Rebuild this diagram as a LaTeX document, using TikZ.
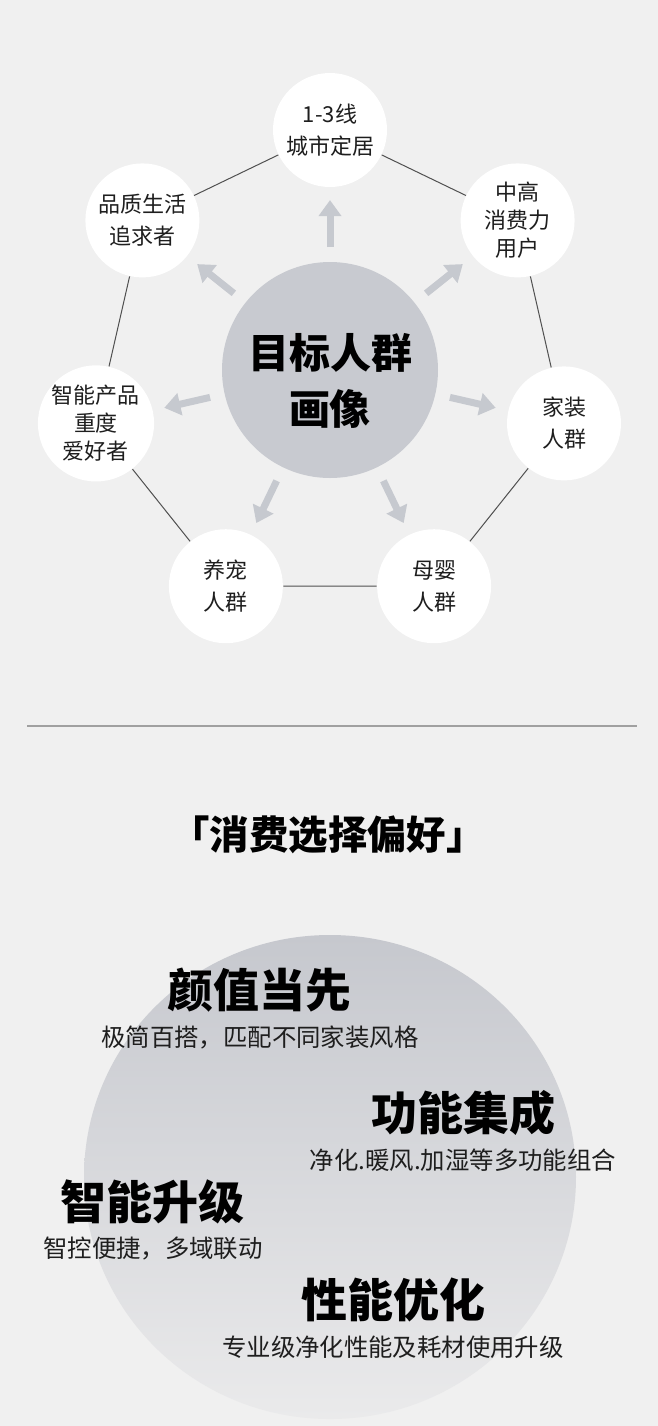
\documentclass[tikz,border=0pt]{standalone}
\usepackage{fontspec}
\setmainfont{Noto Sans CJK SC}
\newfontfamily\heavyfont{Noto Sans CJK SC Black}
\usetikzlibrary{arrows.meta, calc}
\definecolor{pageGray}{HTML}{F0F0F0}
\definecolor{hubGray}{HTML}{C8CAD0}
\definecolor{spokeGray}{HTML}{C6C9CF}
\definecolor{rimGray}{HTML}{505050}
\definecolor{inkDark}{HTML}{1E1E1E}
\definecolor{ruleGray}{HTML}{A0A0A0}
\definecolor{ballTop}{HTML}{C6C8CE}
\definecolor{ballMid}{HTML}{CCCED3}
\definecolor{ballBottom}{HTML}{EAEAEB}
\tikzset{
  persona/.style={circle, fill=white, minimum size=57pt, inner sep=0pt, align=center,
                  text=inkDark, font=\fontsize{11pt}{14pt}\selectfont},
  hub/.style={circle, fill=hubGray, minimum size=108pt, inner sep=0pt},
  hubtext/.style={align=center, text=black, font=\heavyfont\fontsize{20.5pt}{28pt}\selectfont},
  spoke/.style={-{Triangle[width=11pt,length=8pt]}, draw=spokeGray, line width=3.5pt},
  rim/.style={draw=rimGray, line width=0.5pt},
  headline/.style={text=black, font=\heavyfont\fontsize{23pt}{23pt}\selectfont},
  subline/.style={text=inkDark, font=\fontsize{12.2pt}{12.2pt}\selectfont},
}

\begin{document}
\begin{tikzpicture}[x=0.5pt, y=-0.5pt]
\useasboundingbox (0,0) rectangle (658,1426);
\fill[pageGray] (0,0) rectangle (658,1426);

\node[hub] (hub) at (330,370) {};
\node[hubtext] (hubLabel) at (330,381) {目标人群\\画像};

\node[persona] (city) at (330,130) {1-3线\\[2pt]城市定居};
\node[persona] (spend) at (517.6,220.4) {中高\\消费力\\用户};
\node[persona] (decor) at (564,423.4) {家装\\[2pt]人群};
\node[persona] (baby) at (434.1,586.2) {母婴\\[2pt]人群};
\node[persona] (pet) at (225.9,586.2) {养宠\\[2pt]人群};
\node[persona] (gadget) at (96,423.4) {智能产品\\重度\\爱好者};
\node[persona] (life) at (142.4,220.4) {品质生活\\[2pt]追求者};

\draw[rim] (city) -- (spend) -- (decor) -- (baby) -- (pet) -- (gadget) -- (life) -- (city);

\draw[spoke] ($(hub)!0.5125!(city)$) -- ($(hub)!0.708!(city)$);
\draw[spoke] ($(hub)!0.5125!(spend)$) -- ($(hub)!0.708!(spend)$);
\draw[spoke] ($(hub)!0.5125!(decor)$) -- ($(hub)!0.708!(decor)$);
\draw[spoke] ($(hub)!0.5125!(baby)$) -- ($(hub)!0.708!(baby)$);
\draw[spoke] ($(hub)!0.5125!(pet)$) -- ($(hub)!0.708!(pet)$);
\draw[spoke] ($(hub)!0.5125!(gadget)$) -- ($(hub)!0.708!(gadget)$);
\draw[spoke] ($(hub)!0.5125!(life)$) -- ($(hub)!0.708!(life)$);

\draw[ruleGray, line width=0.7pt] (27,726) -- (637,726);

\node[text=black, font=\bfseries\fontsize{19.7pt}{19.7pt}\selectfont] (prefTitle) at (328,835) {「消费选择偏好」};

\shade[top color=ballTop, middle color=ballMid, bottom color=ballBottom]
  (330,1177) ellipse [x radius=123pt, y radius=121pt];

\node[headline] (looks) at (259,990) {颜值当先};
\node[subline] (looksSub) at (260,1037) {极简百搭，匹配不同家装风格};
\node[headline] (combo) at (463,1113) {功能集成};
\node[subline] (comboSub) at (463,1160) {净化.暖风.加湿等多功能组合};
\node[headline] (smart) at (153,1202) {智能升级};
\node[subline] (smartSub) at (153,1249) {智控便捷，多域联动};
\node[headline] (perf) at (393,1300) {性能优化};
\node[subline] (perfSub) at (393,1347) {专业级净化性能及耗材使用升级};
\end{tikzpicture}
\end{document}
